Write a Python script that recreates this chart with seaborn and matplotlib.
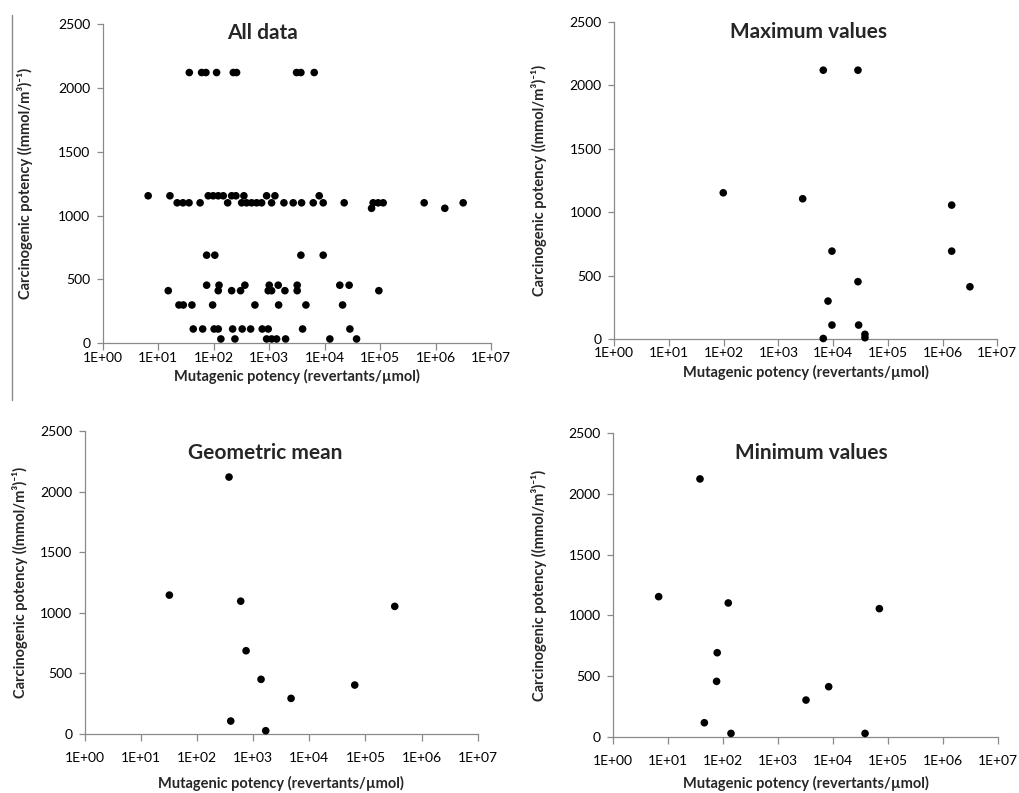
import matplotlib
matplotlib.use("Agg")
import matplotlib.pyplot as plt
import seaborn as sns
import numpy as np
import pandas as pd
from matplotlib.ticker import FixedLocator, FuncFormatter, NullLocator
from matplotlib.lines import Line2D

# ---------------- data ----------------
# All data: mutagenic potency (x) per carcinogenic-potency level (y)
all_y_levels = [2120, 1155, 1100, 1057, 690, 455, 412, 300, 112, 34]
all_x_2120 = [36.4, 60.7, 72.6, 113, 226, 259, 3126, 3741, 6501]
all_x_1155 = [6.6, 16.3, 80, 98, 121, 149, 211, 252, 351, 901, 1273, 8000]
all_x_1100 = [22, 28, 36, 57, 179, 320, 393, 484, 595, 732, 1109, 1849, 2718,
              3846, 6240, 9440, 22550, 75100, 92500, 113800, 624000, 3150000]
all_x_1057 = [70300, 1470000]
all_x_690 = [74.8, 105, 3741, 9440]
all_x_455 = [74.8, 125, 366, 1004, 1459, 3206, 18800, 27700]
all_x_412 = [15.2, 121, 211, 306, 963, 1109, 1927, 3206, 95100]
all_x_300 = [23.7, 28.4, 40.6, 95.9, 555, 1484, 4607, 21100]
all_x_112 = [42.9, 63.4, 102, 121, 220, 327, 464, 751, 963, 4012, 28600]
all_x_34 = [135, 242, 901, 1109, 1365, 1983, 12450, 37700]

max_x = [6600, 28400, 98, 2773, 1466000, 9510, 1466000, 28400, 3160000,
         8050, 9510, 29200, 38100, 38100, 6600]
max_y = [2120, 2120, 1153, 1106, 1056, 693, 693, 452, 412, 299, 110, 110, 37, 10, 4]

geo_x = [370, 32, 598, 332500, 745, 1377, 64400, 4720, 397, 1668]
geo_y = [2120, 1146, 1096, 1053, 687, 451, 404, 294, 107, 27]

min_x = [37.9, 6.7, 124, 70000, 78, 76, 8360, 3230, 45.5, 139, 38400]
min_y = [2124, 1154, 1102, 1055, 692, 456, 412, 302, 115, 27, 27]

panel_titles = ["All data", "Maximum values", "Geometric mean", "Minimum values"]
x_label = "Mutagenic potency (revertants/\u00b5mol)"
y_label = "Carcinogenic potency ((mmol/m\u00b3)\u207b\u00b9)"
x_ticks = [1e0, 1e1, 1e2, 1e3, 1e4, 1e5, 1e6, 1e7]
y_ticks = [0, 500, 1000, 1500, 2000, 2500]

# ---------------- assemble ----------------
all_rows = [all_x_2120, all_x_1155, all_x_1100, all_x_1057, all_x_690,
            all_x_455, all_x_412, all_x_300, all_x_112, all_x_34]
all_x, all_y = [], []
for lvl, xs in zip(all_y_levels, all_rows):
    all_x += xs
    all_y += [lvl] * len(xs)

sns.set_theme(style="white")
plt.rcParams['font.family'] = ['Lato', 'DejaVu Sans']

W, H = 1019, 793
fig = plt.figure(figsize=(W / 100, H / 100), dpi=100)

def px_axes(l, t, r, b):
    return fig.add_axes([l / W, 1 - b / H, (r - l) / W, (b - t) / H])

GREY = "#8a8a8a"
panels = [
    # title, x, y, (left, top, right, bottom), title xy, xlabel y, ylabel x, xtick pad
    (panel_titles[0], all_x, all_y, (102.7, 24, 491, 343.3), (262, 33), 376, 25, 1),
    (panel_titles[1], max_x, max_y, (614.3, 22, 997.3, 339), (809, 32), 372, 539, 1),
    (panel_titles[2], geo_x, geo_y, (84.9, 431, 477.7, 734), (265, 453), 783, 20, 8),
    (panel_titles[3], min_x, min_y, (613.3, 433.3, 997.7, 736.7), (811, 453), 783, 539, 8),
]

fmt = FuncFormatter(lambda v, p: "1E+%02d" % int(round(np.log10(v))))

for title, xs, ys, box, txy, xly, ylx, xpad in panels:
    ax = px_axes(*box)
    df = pd.DataFrame({"x": xs, "y": ys})
    sns.scatterplot(data=df, x="x", y="y", ax=ax, color="black", s=30,
                    edgecolor="none", linewidth=0, legend=False, clip_on=False, zorder=3)
    ax.set_xscale("log")
    ax.set_xlim(1, 1e7)
    ax.set_ylim(0, 2500)
    ax.xaxis.set_major_locator(FixedLocator(x_ticks))
    ax.xaxis.set_minor_locator(NullLocator())
    ax.xaxis.set_major_formatter(fmt)
    ax.yaxis.set_major_locator(FixedLocator(y_ticks))
    ax.set_xlabel("")
    ax.set_ylabel("")
    for s in ["top", "right"]:
        ax.spines[s].set_visible(False)
    for s in ["left", "bottom"]:
        ax.spines[s].set_color(GREY)
        ax.spines[s].set_linewidth(0.9)
    ax.tick_params(axis="x", direction="out", length=5, width=0.9, color=GREY,
                   pad=xpad, labelsize=10, labelcolor="black", bottom=True)
    ax.tick_params(axis="y", direction="out", length=4, width=0.9, color=GREY,
                   pad=5, labelsize=10, labelcolor="black", left=True)
    ax.set_facecolor("white")
    cx = (box[0] + box[2]) / 2
    cy = (box[1] + box[3]) / 2
    fig.text(txy[0] / W, 1 - txy[1] / H, title, ha="center", va="center",
             fontsize=15, fontweight="bold")
    fig.text(cx / W, 1 - xly / H, x_label, ha="center", va="center",
             fontsize=10.5, fontweight="bold")
    fig.text(ylx / W, 1 - cy / H, y_label, ha="center", va="center",
             rotation=90, fontsize=10.5, fontweight="bold")

# thin divider line at the left edge of the upper panel
fig.add_artist(Line2D([12.3 / W, 12.3 / W], [1 - 15 / H, 1 - 400 / H],
                      color=GREY, linewidth=1.0))

fig.savefig("out.png", dpi=100, facecolor="white")
